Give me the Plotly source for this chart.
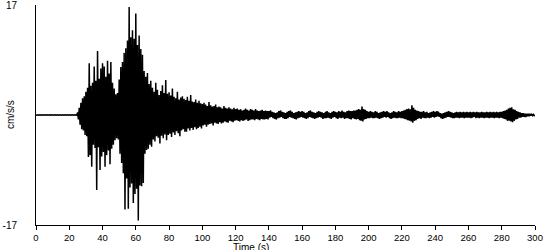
import numpy as np
import plotly.graph_objects as go

# Sampling: one value every 0.5 s, 0 .. 300 s (601 samples)
dt = 0.5

# Acceleration values (cm/s/s), 20 samples per 10 s row
acc_rows = [
    [0.02,-0.02,0.03,-0.02,0.02,-0.03,0.02,-0.02,0.03,-0.02,0.02,-0.02,0.03,-0.03,0.02,-0.02,0.02,-0.03,0.03,-0.02],
    [0.03,-0.02,0.02,-0.03,0.02,-0.02,0.03,-0.02,0.02,-0.03,0.03,-0.02,0.02,-0.02,0.03,-0.03,0.02,-0.02,0.03,-0.02],
    [0.02,-0.03,0.03,-0.02,0.03,-0.03,0.02,-0.03,0.03,-0.03,0.4,-0.7,1.1,-1.5,1.9,-2.2,2.6,-2.4,2.9,-3.1],
    [3.6,-3.3,4.2,-6.5,8.0,-6.2,4.5,-8.0,5.0,-4.6,7.5,-5.1,5.3,-11.6,9.9,-5.0,5.6,-8.5,7.2,-6.4],
    [8.0,-5.7,7.5,-8.0,5.9,-6.2,8.4,-5.5,6.4,-7.6,8.2,-5.2,5.0,-4.6,4.1,-3.9,3.2,-3.6,3.4,-3.8],
    [5.5,-6.0,7.4,-7.4,8.2,-9.0,9.6,-14.6,10.3,-9.8,11.5,-14.5,16.7,-11.2,12.0,-10.6,13.1,-13.6,11.8,-12.2],
    [15.7,-11.4,10.8,-16.3,12.3,-10.9,10.2,-11.0,9.3,-10.5,6.8,-6.0,5.9,-5.4,6.5,-5.2,4.8,-4.6,5.3,-4.9],
    [4.2,-3.8,3.6,-4.1,5.0,-3.3,3.9,-3.5,3.1,-4.4,3.7,-3.2,4.6,-3.6,3.4,-3.0,5.4,-3.9,3.3,-3.1],
    [3.5,-2.9,3.0,-3.4,4.1,-2.7,2.8,-3.1,2.6,-2.5,3.6,-2.8,2.4,-3.3,2.7,-2.4,2.9,-2.2,2.5,-2.6],
    [2.3,-2.6,2.8,-2.1,2.2,-2.4,3.1,-2.0,2.1,-2.3,2.0,-1.9,2.4,-2.2,1.9,-2.0,2.2,-1.8,1.8,-2.1],
    [1.7,-1.6,1.9,-1.5,1.6,-1.8,1.4,-1.5,2.0,-1.4,1.5,-1.3,1.3,-1.6,1.4,-1.2,1.6,-1.3,1.2,-1.4],
    [1.3,-1.1,1.2,-1.3,1.0,-1.2,1.4,-1.0,1.1,-1.1,1.0,-1.2,1.2,-0.9,1.0,-1.0,0.9,-1.1,1.1,-0.9],
    [0.9,-0.8,1.0,-0.9,0.8,-1.0,0.9,-0.8,0.7,-0.9,0.8,-0.8,1.0,-0.7,0.8,-0.9,0.7,-0.8,0.9,-0.7],
    [0.8,-0.7,0.7,-0.8,0.9,-0.6,0.7,-0.7,0.6,-0.8,0.7,-0.6,0.8,-0.7,0.6,-0.7,0.7,-0.6,0.6,-0.7],
    [0.6,-0.4,0.7,-0.3,0.5,-0.5,0.4,-0.6,0.3,-0.7,0.4,-0.5,0.6,-0.4,0.7,-0.3,0.5,-0.5,0.4,-0.6],
    [0.3,-0.6,0.5,-0.5,0.6,-0.3,0.7,-0.4,0.5,-0.5,0.3,-0.6,0.4,-0.7,0.5,-0.5,0.6,-0.4,0.5,-0.3],
    [0.6,-0.4,0.5,-0.5,0.3,-0.6,0.4,-0.5,0.6,-0.3,0.7,-0.4,0.5,-0.5,0.4,-0.6,0.3,-0.5,0.5,-0.4],
    [0.6,-0.3,0.5,-0.4,0.4,-0.6,0.3,-0.5,0.5,-0.5,0.6,-0.4,0.4,-0.5,0.3,-0.6,0.5,-0.4,0.6,-0.3],
    [0.5,-0.5,0.4,-0.6,0.6,-0.4,0.5,-0.5,0.7,-0.4,0.5,-0.6,0.4,-0.5,0.6,-0.5,0.7,-0.6,0.6,-0.7],
    [0.6,-0.5,0.7,-0.6,0.7,-0.7,0.8,-0.6,0.9,-0.8,0.8,-0.9,1.3,-1.0,0.9,-0.7,0.8,-0.6,0.6,-0.5],
    [0.5,-0.5,0.6,-0.4,0.5,-0.5,0.4,-0.5,0.6,-0.4,0.5,-0.5,0.3,-0.6,0.4,-0.5,0.5,-0.4,0.6,-0.3],
    [0.5,-0.4,0.6,-0.3,0.4,-0.5,0.3,-0.6,0.4,-0.5,0.6,-0.4,0.5,-0.5,0.4,-0.5,0.6,-0.4,0.5,-0.5],
    [0.6,-0.5,0.7,-0.6,0.8,-0.7,0.9,-0.8,1.0,-0.9,0.9,-1.0,1.5,-1.2,1.1,-0.9,0.8,-0.8,0.7,-0.6],
    [0.6,-0.5,0.5,-0.6,0.5,-0.4,0.6,-0.5,0.4,-0.5,0.5,-0.4,0.3,-0.5,0.4,-0.4,0.5,-0.3,0.6,-0.4],
    [0.5,-0.3,0.6,-0.2,0.5,-0.3,0.3,-0.5,0.2,-0.6,0.3,-0.5,0.4,-0.4,0.5,-0.3,0.6,-0.3,0.5,-0.4],
    [0.4,-0.5,0.3,-0.5,0.4,-0.4,0.5,-0.4,0.4,-0.5,0.5,-0.4,0.4,-0.4,0.5,-0.5,0.4,-0.4,0.5,-0.4],
    [0.4,-0.4,0.5,-0.5,0.4,-0.4,0.5,-0.3,0.4,-0.5,0.5,-0.4,0.4,-0.5,0.4,-0.4,0.5,-0.4,0.4,-0.5],
    [0.4,-0.4,0.5,-0.4,0.4,-0.5,0.5,-0.4,0.4,-0.4,0.5,-0.5,0.4,-0.4,0.5,-0.4,0.4,-0.5,0.5,-0.4],
    [0.5,-0.5,0.6,-0.6,0.7,-0.7,0.8,-0.9,1.0,-0.9,1.1,-1.0,1.2,-1.1,0.9,-0.9,0.8,-0.7,0.6,-0.6],
    [0.5,-0.4,0.4,-0.4,0.3,-0.3,0.3,-0.3,0.2,-0.3,0.2,-0.2,0.2,-0.2,0.2,-0.1,0.1,-0.1,0.1,-0.1],
    [0.0],
]

x_ticks = [0, 20, 40, 60, 80, 100, 120, 140, 160, 180, 200, 220, 240, 260, 280, 300]
y_ticks = [-17, 17]
y_tick_labels = ["-17", "17"]
x_label = "Time (s)"
y_label = "cm/s/s"

acc = [v for row in acc_rows for v in row]
t = np.arange(len(acc)) * dt

fig = go.Figure()
fig.add_trace(go.Scatter(
    x=t, y=acc, mode="lines",
    line=dict(color="black", width=1.5, simplify=False),
    hoverinfo="skip", showlegend=False,
))

font = dict(family="Arial, Liberation Sans, sans-serif", size=10, color="black")

fig.update_layout(
    width=550, height=250,
    margin=dict(l=36, r=15, t=5, b=25, autoexpand=False),
    paper_bgcolor="white", plot_bgcolor="white",
    font=font,
    showlegend=False,
    xaxis=dict(
        range=[0, 300], tickvals=x_ticks, ticktext=[str(v) for v in x_ticks],
        showgrid=False, zeroline=False, showline=True, linecolor="black", linewidth=1,
        ticks="outside", ticklen=4, tickcolor="black", tickwidth=1,
        tickfont=dict(size=9.5), fixedrange=True, ticklabeloverflow="allow",
        automargin=False,
    ),
    yaxis=dict(
        range=[-17, 17], tickvals=y_ticks, ticktext=y_tick_labels,
        showgrid=False, zeroline=False, showline=True, linecolor="black", linewidth=1,
        ticks="outside", ticklen=16, tickcolor="rgba(0,0,0,0)",
        tickfont=dict(size=10), fixedrange=True, ticklabeloverflow="allow",
        automargin=False,
    ),
    annotations=[
        dict(text=x_label, xref="x", yref="paper", x=129, y=-0.1,
             xanchor="center", yanchor="middle", showarrow=False,
             font=dict(size=10)),
        dict(text=y_label, xref="paper", yref="paper", x=-0.052, y=0.5,
             xanchor="center", yanchor="middle", textangle=-90, showarrow=False,
             font=dict(size=10)),
    ],
)

fig.write_html("out.html")
